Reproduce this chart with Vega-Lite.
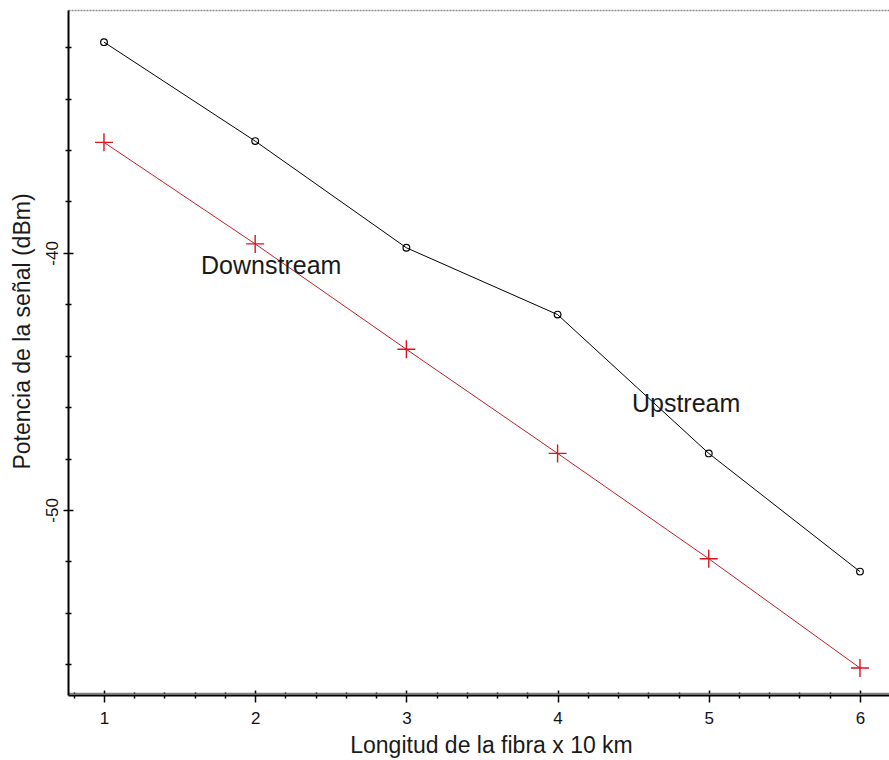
{
  "$schema": "https://vega.github.io/schema/vega-lite/v6.json",
  "width": 821,
  "height": 685,
  "autosize": {"type": "none"},
  "padding": {"left": 68, "top": 10, "right": 0, "bottom": 65},
  "config": {
    "view": {"stroke": null},
    "font": "Liberation Sans",
    "axis": {"labelFont": "Liberation Sans", "titleFont": "Liberation Sans", "grid": false, "domainColor": "#000", "tickColor": "#000", "labelColor": "#111", "titleColor": "#1a1a1a", "titleFontWeight": "normal"}
  },
  "datasets": {
    "series": [
      {"series": "Upstream", "x": 1, "y": -31.8},
      {"series": "Upstream", "x": 2, "y": -35.65},
      {"series": "Upstream", "x": 3, "y": -39.8},
      {"series": "Upstream", "x": 4, "y": -42.4},
      {"series": "Upstream", "x": 5, "y": -47.8},
      {"series": "Upstream", "x": 6, "y": -52.4},
      {"series": "Downstream", "x": 1, "y": -35.7},
      {"series": "Downstream", "x": 2, "y": -39.65},
      {"series": "Downstream", "x": 3, "y": -43.75},
      {"series": "Downstream", "x": 4, "y": -47.8},
      {"series": "Downstream", "x": 5, "y": -51.9},
      {"series": "Downstream", "x": 6, "y": -56.15}
    ],
    "labels": [
      {"label": "Downstream", "x": 1.642, "y": -40.82},
      {"label": "Upstream", "x": 4.492, "y": -46.2}
    ]
  },
  "resolve": {"axis": {"x": "independent", "y": "independent"}},
  "layer": [
    {
      "data": {"name": "series"},
      "mark": {"type": "line", "strokeWidth": 1},
      "encoding": {
        "x": {
          "field": "x", "type": "quantitative",
          "scale": {"domain": [0.762, 6.192], "nice": false, "zero": false},
          "axis": {
            "orient": "bottom", "values": [1, 2, 3, 4, 5, 6], "tickSize": 7, "tickWidth": 1.5,
            "domainWidth": 2, "labelFontSize": 17, "labelPadding": 8, "labelFlush": false,
            "title": "Longitud de la fibra x 10 km", "titleFontSize": 23,
            "titleX": 423, "titleY": 39, "titleAlign": "center", "titleBaseline": "top", "titleAnchor": null
          }
        },
        "y": {
          "field": "y", "type": "quantitative",
          "scale": {"domain": [-57.2, -30.55], "nice": false, "zero": false},
          "axis": {
            "orient": "left",
            "values": [-32, -34, -36, -38, -40, -42, -44, -46, -48, -50, -52, -54, -56],
            "tickSize": {"condition": {"test": "datum.value % 10 === 0", "value": 5}, "value": 3},
            "tickWidth": 1.5, "domainWidth": 2,
            "labelExpr": "datum.value % 10 === 0 ? '-' + abs(datum.value) : ''",
            "labelFontSize": 17, "labelAngle": -90, "labelAlign": "center", "labelBaseline": "alphabetic",
            "labelPadding": 6, "labelFlush": false,
            "title": "Potencia de la señal (dBm)", "titleFontSize": 23, "titleAngle": -90,
            "titleX": -57, "titleY": 321, "titleAlign": "center", "titleBaseline": "top", "titleAnchor": null
          }
        },
        "color": {
          "field": "series", "type": "nominal",
          "scale": {"domain": ["Upstream", "Downstream"], "range": ["#000000", "#c41e24"]},
          "legend": null
        }
      }
    },
    {
      "data": {"name": "series"},
      "transform": [{"filter": "datum.series === 'Upstream'"}],
      "mark": {"type": "point", "shape": "circle", "size": 45, "filled": false, "stroke": "#000", "strokeWidth": 1.2, "opacity": 1},
      "encoding": {
        "x": {
          "field": "x", "type": "quantitative",
          "axis": {
            "orient": "bottom", "domain": false, "labels": false, "title": null,
            "values": [0.8, 1.2, 1.4, 1.6, 1.8, 2.2, 2.4, 2.6, 2.8, 3.2, 3.4, 3.6, 3.8, 4.2, 4.4, 4.6, 4.8, 5.2, 5.4, 5.6, 5.8, 6.2],
            "tickSize": 3, "tickWidth": 1.5
          }
        },
        "y": {
          "field": "y", "type": "quantitative",
          "axis": {
            "orient": "left", "domain": false, "labels": false, "title": null,
            "values": [-32, -34, -36, -38, -40, -42, -44, -46, -48, -50, -52, -54, -56],
            "tickSize": {"condition": {"test": "datum.value % 10 === 0", "value": -5}, "value": -3},
            "tickWidth": 1.5
          }
        }
      }
    },
    {
      "data": {"name": "series"},
      "transform": [{"filter": "datum.series === 'Downstream'"}],
      "mark": {"type": "point", "shape": "M-1,0L1,0M0,-1L0,1", "size": 324, "filled": false, "stroke": "#d9141c", "strokeWidth": 1.4, "opacity": 1},
      "encoding": {
        "x": {
          "field": "x", "type": "quantitative",
          "axis": {
            "orient": "bottom", "labels": false, "title": null,
            "domain": true, "domainDash": [1, 1], "domainWidth": 1.5, "offset": -2,
            "values": [0.8, 1, 1.2, 1.4, 1.6, 1.8, 2, 2.2, 2.4, 2.6, 2.8, 3, 3.2, 3.4, 3.6, 3.8, 4, 4.2, 4.4, 4.6, 4.8, 5, 5.2, 5.4, 5.6, 5.8, 6, 6.2],
            "tickSize": {"condition": {"test": "abs(datum.value - round(datum.value)) < 0.01", "value": -3}, "value": -1},
            "tickWidth": 1.5
          }
        },
        "y": {"field": "y", "type": "quantitative", "axis": null}
      }
    },
    {
      "data": {"name": "labels"},
      "mark": {"type": "text", "align": "left", "baseline": "alphabetic", "fontSize": 25, "font": "Liberation Sans", "color": "#1a1a1a"},
      "encoding": {
        "x": {
          "field": "x", "type": "quantitative",
          "axis": {"orient": "top", "labels": false, "ticks": false, "title": null, "domain": true, "domainDash": [2, 1], "domainColor": "#8a8a8a", "domainWidth": 1.5}
        },
        "y": {"field": "y", "type": "quantitative", "axis": null},
        "text": {"field": "label"}
      }
    }
  ]
}
